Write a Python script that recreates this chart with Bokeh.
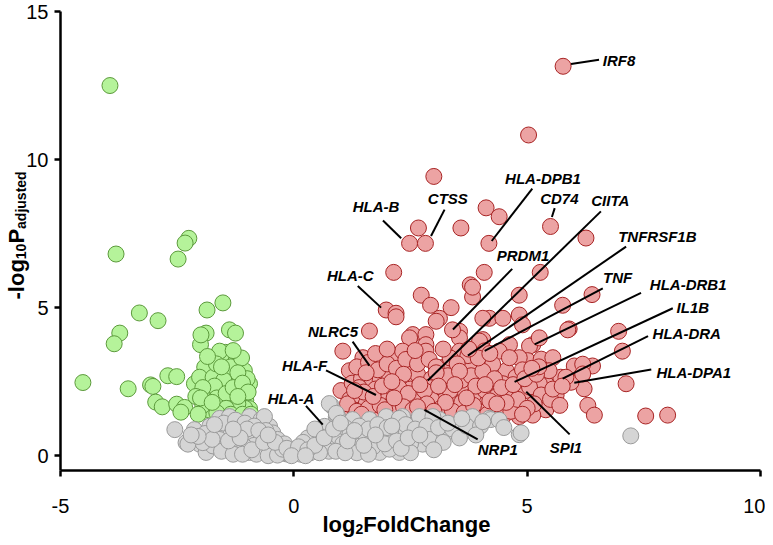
from bokeh.plotting import figure
from bokeh.models import Range1d, Label, FixedTicker
from bokeh.core.properties import value
from bokeh.embed import file_html
from bokeh.resources import INLINE
import math

# ---------------- data ----------------
green_x = [-3.94, -3.81, -2.25, -2.33, -2.48, -3.31, -2.91, -3.73, -3.85, -4.52, -3.55, -3.07, -3.02,
           -2.70, -2.51, -2.96, -2.82, -2.51, -2.34, -2.42, -1.86, -1.52, -1.88, -2.00, -1.38, -1.25,
           -2.13, -1.91, -1.73, -1.46, -1.59, -1.24, -1.06, -0.95, -1.48, -1.91, -2.02, -1.73, -1.80,
           -1.88, -1.59, -1.31, -1.16, -1.03, -1.38, -1.59, -1.80, -1.24, -0.95, -1.99, -1.66, -1.35,
           -1.12, -1.00, -1.20, -1.50, -1.70, -1.95, -2.10, -1.65, -1.45, -1.30, -1.10, -0.98, -1.05,
           -1.20, -1.45, -1.65, -1.95, -2.05, -1.35, -1.10, -0.92, -1.55, -1.85, -1.30, -1.20, -2.00,
           -1.75]
green_y = [12.50, 6.81, 7.34, 7.18, 6.64, 4.82, 4.56, 4.14, 3.78, 2.47, 2.26, 2.39, 2.34,
           2.70, 2.67, 1.81, 1.65, 1.74, 1.63, 1.47, 4.92, 5.16, 4.14, 3.75, 4.25, 4.14,
           2.43, 1.48, 3.32, 3.49, 3.53, 3.20, 2.87, 2.43, 2.92, 2.99, 2.65, 2.65, 2.09,
           1.87, 2.26, 2.53, 2.09, 1.87, 1.87, 1.70, 1.54, 1.54, 1.59, 4.08, 3.10, 3.00,
           3.30, 2.60, 2.80, 2.55, 2.35, 2.30, 2.00, 1.95, 2.10, 2.30, 2.45, 2.15, 1.60,
           1.75, 1.60, 1.45, 1.70, 1.40, 1.40, 1.40, 1.40, 3.00, 3.35, 3.55, 2.00, 1.95,
           1.80]

red_x = [5.77, 5.03, 3.00, 4.12, 4.40, 3.58, 2.67, 2.48, 2.82, 4.18, 5.50, 6.26, 2.14, 4.08, 5.28,
         2.73, 2.93, 3.37, 3.78, 3.83, 4.83, 5.76, 6.39, 1.98, 2.19, 1.62, 5.90, 6.96, 7.04, 6.01,
         6.40, 7.12, 6.17, 6.22, 6.30, 6.44, 7.54, 8.01, 5.94, 5.72, 5.12, 4.76, 4.97,
         3.12, 4.19, 4.48, 4.05, 4.83, 4.90, 3.05, 2.19, 2.55, 2.83, 3.55, 4.05, 4.62, 5.05, 5.26,
         5.01, 5.30, 5.87, 5.55, 5.83, 5.40, 6.19, 6.19, 5.62, 5.40, 5.12, 4.83, 5.26, 5.47, 5.05,
         1.05, 1.48, 1.19, 1.01, 2.48, 2.12, 2.83, 3.55, 3.98, 4.40, 4.83, 4.55, 4.62, 3.55, 2.83,
         2.33, 2.48, 3.19, 3.76, 4.26, 4.76, 4.48, 3.98, 3.40, 2.83, 4.26, 3.90, 3.40, 2.98, 2.55,
         2.19, 4.48, 3.83, 3.40, 3.73, 4.09, 1.65,
         1.10, 1.30, 1.50, 1.70, 1.90, 2.05, 2.30, 2.45, 2.70, 2.85, 3.10, 3.30, 3.55, 3.75, 4.00,
         4.15, 4.40, 4.65, 1.20, 1.40, 1.60, 1.80, 1.95, 2.15, 2.35, 2.60, 2.75, 3.00, 3.20, 3.45,
         3.65, 3.85, 4.10, 4.35, 4.60, 4.80, 1.25, 1.45, 1.65, 1.85, 2.05, 2.25, 2.45, 2.65, 2.95,
         3.15, 3.30, 3.60, 3.80, 4.05, 4.30, 4.90, 1.35, 1.60, 1.80, 2.00, 2.20, 2.40, 2.65, 2.90,
         3.05, 3.35, 3.50, 3.95, 4.20, 1.75, 2.00, 2.60, 3.20, 3.75, 1.55, 2.10, 2.60, 3.20, 3.60,
         4.20, 4.55, 1.75, 2.90, 3.90, 4.45, 1.40, 2.50, 3.35, 2.35, 3.05, 3.55, 1.55, 4.10, 4.70,
         4.95, 5.20, 5.30, 5.15, 5.00, 4.90, 5.50, 5.70, 5.55, 5.75, 5.25, 5.10,
         1.15, 1.35, 1.60, 1.85, 2.00, 2.20, 2.40, 2.55, 2.75, 2.95, 3.15, 3.40, 3.65, 1.50, 1.70,
         2.25, 2.45, 2.80, 3.10, 1.30, 1.90, 2.10, 2.70, 3.45, 1.45, 1.95, 2.35, 2.55, 2.85, 3.25,
         3.85, 4.35, 2.15, 2.65, 3.00, 3.70]
red_y = [13.15, 10.83, 9.43, 8.37, 8.07, 7.69, 7.69, 7.17, 7.17, 7.17, 7.74, 7.35, 6.19, 6.19, 6.19,
         5.42, 5.08, 5.00, 5.77, 5.36, 5.42, 5.08, 5.44, 4.92, 4.81, 4.21, 4.28, 4.20, 3.53, 3.03,
         3.03, 2.43, 2.70, 2.26, 1.70, 1.37, 1.34, 1.37, 2.48, 2.65, 3.75, 2.53, 2.20,
         4.64, 4.64, 4.64, 4.64, 4.75, 4.42, 4.54, 4.69, 4.09, 4.09, 4.20, 3.92, 3.75, 3.70, 3.98,
         3.21, 3.26, 4.25, 3.31, 2.65, 2.43, 3.09, 2.76, 2.04, 1.55, 1.37, 1.32, 2.43, 2.87, 2.32,
         3.53, 3.31, 2.87, 2.20, 3.98, 3.31, 3.75, 3.98, 3.87, 3.53, 3.31, 2.87, 3.31, 3.53, 3.53,
         3.53, 2.98, 2.98, 3.09, 3.09, 2.65, 2.43, 2.53, 2.43, 2.43, 1.59, 1.82, 1.87, 1.76, 1.65,
         1.87, 1.32, 5.69, 4.25, 3.38, 3.54, 3.00,
         1.45, 1.60, 1.40, 1.55, 1.45, 1.60, 1.42, 1.70, 1.50, 1.62, 1.45, 1.58, 1.42, 1.55, 1.48,
         1.40, 1.65, 1.50, 1.90, 2.05, 1.85, 2.10, 1.95, 2.20, 2.00, 2.15, 1.98, 2.10, 2.25, 2.05,
         2.20, 2.05, 2.20, 2.00, 2.15, 1.90, 2.45, 2.60, 2.35, 2.55, 2.70, 2.45, 2.50, 2.75, 2.60,
         2.45, 2.70, 2.55, 2.70, 2.85, 2.60, 2.90, 3.00, 3.15, 2.90, 3.10, 2.95, 3.25, 3.10, 3.25,
         3.00, 3.30, 3.10, 3.30, 3.45, 3.45, 3.60, 3.55, 3.60, 3.60, 1.75, 1.75, 1.85, 1.85, 1.80,
         1.85, 1.80, 2.25, 2.30, 2.35, 2.30, 2.30, 2.25, 2.20, 2.75, 2.80, 2.85, 2.80, 2.40, 2.40,
         2.60, 2.75, 2.05, 1.75, 1.60, 1.40, 1.90, 1.70, 2.25, 2.35, 3.00, 2.95,
         1.75, 1.50, 1.60, 1.70, 1.40, 1.55, 1.45, 1.95, 1.40, 1.90, 1.60, 1.50, 1.45, 2.15, 2.00,
         2.30, 2.10, 2.20, 2.35, 2.20, 2.35, 2.50, 2.40, 2.40, 1.40, 1.55, 1.65, 1.55, 1.75, 1.80,
         1.70, 1.75, 1.95, 1.65, 1.50, 1.95]

grey_x = [-2.55, -2.13, -2.31, -2.02, -1.88, -1.59, -1.38, -0.95, -0.70, -0.52, -0.45, -1.66, -1.45,
          -1.16, -1.73, -1.45, -1.24, -0.95, -0.73, -1.09, -0.81, -0.38, -0.16, 0.19, 0.48, 0.66,
          0.80, 0.91, 0.76, -0.63, -1.95, -2.27,
          -1.80, -1.50, -1.25, -1.05, -0.85, -0.60, -1.35, -1.60, -0.95, -0.70, -0.50, -1.20, -0.85,
          -0.60, -0.45, -0.30, -0.25, -0.10, 0.05, -1.05, -1.55, -1.30, -1.10, -0.80, -0.55, -0.35,
          -1.90, -1.75, -2.05, -1.00, -0.75, -0.35, -0.20, -1.40,
          0.05, 0.94, 1.26, 1.62, 1.98, 2.33, 0.55, 0.34, -0.24, -0.52, 1.26, 1.84, 2.26, 1.55,
          2.12, 0.76, 0.91, 2.26, 2.69, 3.12, 3.48, 3.83, 4.19, 4.83, 1.48, 1.91, 2.41, 2.98,
          3.26, 2.76, 1.33, 2.05, 2.69, 2.98, 3.83, 4.22, 4.87, 7.22,
          0.30, 0.45, 0.60, 0.75, 0.95, 1.10, 1.05, 1.20, 1.40, 1.35, 1.60, 1.70, 1.80, 1.95,
          2.00, 2.20, 2.40, 2.50, 2.60, 2.85, 2.90, 3.10, 3.20, 3.40, 3.55, 3.70, 3.00, 2.50,
          0.20, 0.15, 0.35, 0.55, 0.90, 1.10, 4.00, 3.90, 4.40, 4.50, 1.60, 2.30,
          -0.90, -0.65, -0.40, -0.15, 0.10, 0.30, 0.45, 0.65, -0.05, 0.25, -1.15, 0.85, 1.00,
          1.15, 1.30, 1.50, 1.75, 2.10, 2.45, 2.70, 3.30, 3.60, 4.05, -1.70, -2.20, -1.30, -0.55]
grey_y = [0.88, 0.88, 0.44, 0.39, 0.11, 1.26, 1.32, 1.32, 1.22, 0.99, 0.77, 0.77, 0.88,
          0.88, 0.33, 0.33, 0.22, 0.11, 0.22, 0.55, 0.66, 0.33, 0.06, 0.22, 0.55, 0.99,
          1.70, 1.32, 0.44, 1.32, 0.44, 0.39,
          1.00, 1.10, 1.20, 1.10, 1.00, 0.85, 0.70, 0.55, 0.75, 0.55, 0.55, 0.45, 0.35,
          0.20, 0.15, 0.35, 0.10, 0.20, 0.10, 0.30, 0.15, 0.05, 0.05, 0.05, 0.00, 0.02,
          0.75, 0.55, 0.65, 0.90, 0.85, 0.55, 0.40, 0.50,
          0.22, 1.32, 1.22, 1.22, 1.32, 1.32, 0.66, 0.33, 0.22, 0.55, 0.22, 0.11, 0.11, 0.55,
          0.66, 1.76, 1.43, 1.26, 1.22, 1.22, 1.05, 1.26, 1.26, 0.71, 0.77, 0.66, 0.77, 0.77,
          0.77, 0.39, 0.33, 0.22, 1.32, 1.32, 1.32, 1.22, 0.77, 0.67,
          0.60, 0.90, 0.30, 0.15, 0.65, 0.95, 0.40, 0.70, 1.00, 0.10, 0.90, 0.30, 1.05, 0.40,
          0.95, 0.50, 1.05, 0.40, 0.90, 1.00, 0.55, 0.95, 0.45, 0.90, 0.60, 1.00, 0.20, 0.10,
          0.45, 0.05, 0.10, 0.10, 0.15, 0.10, 1.00, 0.70, 1.20, 0.95, 0.05, 0.25,
          0.20, 0.45, 0.45, 0.25, 0.30, 0.20, 0.35, 0.60, 0.00, 0.00, 0.60, 0.90, 1.10,
          0.50, 0.85, 0.35, 0.70, 1.00, 0.60, 0.70, 1.10, 1.25, 1.15, 1.05, 0.70, 0.90, 0.70]

x_ticks = [-5, 0, 5, 10]
y_ticks = [0, 5, 10, 15]

# gene annotations: name, text x, text y, leader start (x, y), leader end (x, y)
genes   = ["HLA-B", "CTSS", "HLA-DPB1", "CD74", "CIITA", "PRDM1", "TNFRSF1B", "TNF", "HLA-DRB1",
           "IL1B", "HLA-DRA", "HLA-DPA1", "SPI1", "NRP1", "HLA-F", "NLRC5", "HLA-A", "HLA-C"]
gene_tx = [1.76, 3.30, 5.34, 5.69, 6.78, 4.91, 7.79, 6.94, 8.45, 8.55, 8.42, 8.57, 5.83, 4.37, 0.23, 0.84, -0.06, 1.21]
gene_ty = [8.42, 8.69, 9.36, 8.69, 8.61, 6.75, 7.40, 6.03, 5.78, 5.00, 4.12, 2.82, 0.28, 0.22, 3.04, 4.21, 1.94, 6.09]
lead_x0 = [1.91, 3.23, 5.11, 5.59, 6.58, 4.68, 7.12, 6.62, 7.44, 8.12, 7.59, 7.66, 5.91, 3.94, 0.69, 1.26, 0.26, 1.37]
lead_y0 = [7.94, 8.31, 9.02, 8.36, 8.25, 6.31, 7.06, 5.65, 5.50, 4.98, 4.04, 2.91, 0.72, 0.55, 2.88, 3.85, 1.68, 5.73]
lead_x1 = [2.30, 2.94, 4.24, 5.53, 2.87, 3.41, 3.73, 4.09, 5.16, 4.73, 5.76, 6.01, 4.98, 2.80, 1.76, 1.62, 0.62, 1.87]
lead_y1 = [7.34, 7.42, 7.25, 8.06, 2.54, 4.26, 3.38, 3.54, 3.76, 2.49, 2.60, 2.46, 2.16, 1.55, 2.05, 3.04, 1.05, 5.00]
top_gene = ["IRF8"]
top_tx, top_ty = [6.62], [13.34]
top_x0, top_y0, top_x1, top_y1 = [5.94], [13.23], [6.54], [13.37]

# ---------------- layout (page pixels) ----------------
W, H = 765, 537            # canvas; page offset 8px
FX0, FX1 = 68, 768         # page x of data -5 and 10
FY0, FY1 = 478, 19         # page y of data -0.5 and 15
XMIN, XMAX, YMIN, YMAX = -5, 10, -0.5, 15

def dx(px):
    return XMIN + (px - FX0) * (XMAX - XMIN) / (FX1 - FX0)

def dy(py):
    return YMIN + (FY0 - py) * (YMAX - YMIN) / (FY0 - FY1)

p = figure(width=W, height=H, output_backend="svg", toolbar_location=None, title_location=None,
           x_range=Range1d(dx(8), dx(8 + W)), y_range=Range1d(dy(8 + H), dy(8)),
           min_border_left=0, min_border_right=0, min_border_top=0, min_border_bottom=0)
p.outline_line_color = None
p.grid.grid_line_color = None
p.background_fill_color = "white"
p.border_fill_color = "white"

FONT = "Liberation Sans"
for ax in (p.xaxis, p.yaxis):
    ax.axis_line_width = 2.5
    ax.axis_line_color = "black"
    ax.major_tick_line_width = 2.5
    ax.major_tick_line_color = "black"
    ax.major_tick_out = 6
    ax.major_tick_in = 0
    ax.minor_tick_line_color = None
    ax.major_label_text_font = FONT
    ax.major_label_text_font_size = "20px"
    ax.major_label_text_color = "black"
p.xaxis.ticker = FixedTicker(ticks=x_ticks)
p.yaxis.ticker = FixedTicker(ticks=y_ticks)
p.xaxis.fixed_location = YMIN
p.yaxis.fixed_location = XMIN
p.xaxis.bounds = (XMIN, XMAX)
p.yaxis.bounds = (YMIN, YMAX)
p.xaxis.major_label_overrides = {-5: "-5"}
p.xaxis.major_label_standoff = 22
p.yaxis.major_label_standoff = 6

# points
p.scatter(green_x, green_y, size=16, fill_color="#b5f39a", line_color="#5c9a3c", line_width=1)
p.scatter(red_x, red_y, size=16, fill_color="#eca3a3", line_color="#a82424", line_width=1)
p.scatter(grey_x, grey_y, size=16, fill_color="#d5d5d5", line_color="#9a9a9a", line_width=1)

# leader lines
p.segment(lead_x0, lead_y0, lead_x1, lead_y1, line_color="black", line_width=2)
p.segment(top_x0, top_y0, top_x1, top_y1, line_color="black", line_width=2)

p.text(gene_tx, gene_ty, text=genes, text_font=value(FONT), text_font_style="bold italic",
       text_font_size="15px", text_align="center", text_baseline="middle", text_color="black")
p.text(top_tx, top_ty, text=top_gene, text_font=value(FONT), text_font_style="bold italic",
       text_font_size="15px", text_align="left", text_baseline="middle", text_color="black")

def lab(x, y, t, size, angle=0.0):
    p.add_layout(Label(x=dx(x), y=dy(y), text=t, text_font=FONT, text_font_style="bold",
                       text_font_size=size, text_align="left", text_baseline="alphabetic",
                       angle=angle, text_color="black"))

M, S = 22, 14
# x title: log2FoldChange
x0 = 330
lab(x0, 532, "log", f"{M}px")
x1 = x0 + 1.5 * M
lab(x1, 536, "2", f"{S}px")
x2 = x1 + 0.556 * S
lab(x2, 532, "FoldChange", f"{M}px")

# y title: -log10 P adjusted (rotated)
a = math.pi / 2
y0 = 307
lab(24, y0, "-log", f"{M}px", a)
y1 = y0 - 1.833 * M
lab(28, y1, "10", f"{S}px", a)
y2 = y1 - 1.112 * S
lab(24, y2, "P", f"{M}px", a)
y3 = y2 - 0.667 * M
lab(28, y3, "adjusted", f"{S}px", a)

open("out.html", "w").write(file_html(p, INLINE))
